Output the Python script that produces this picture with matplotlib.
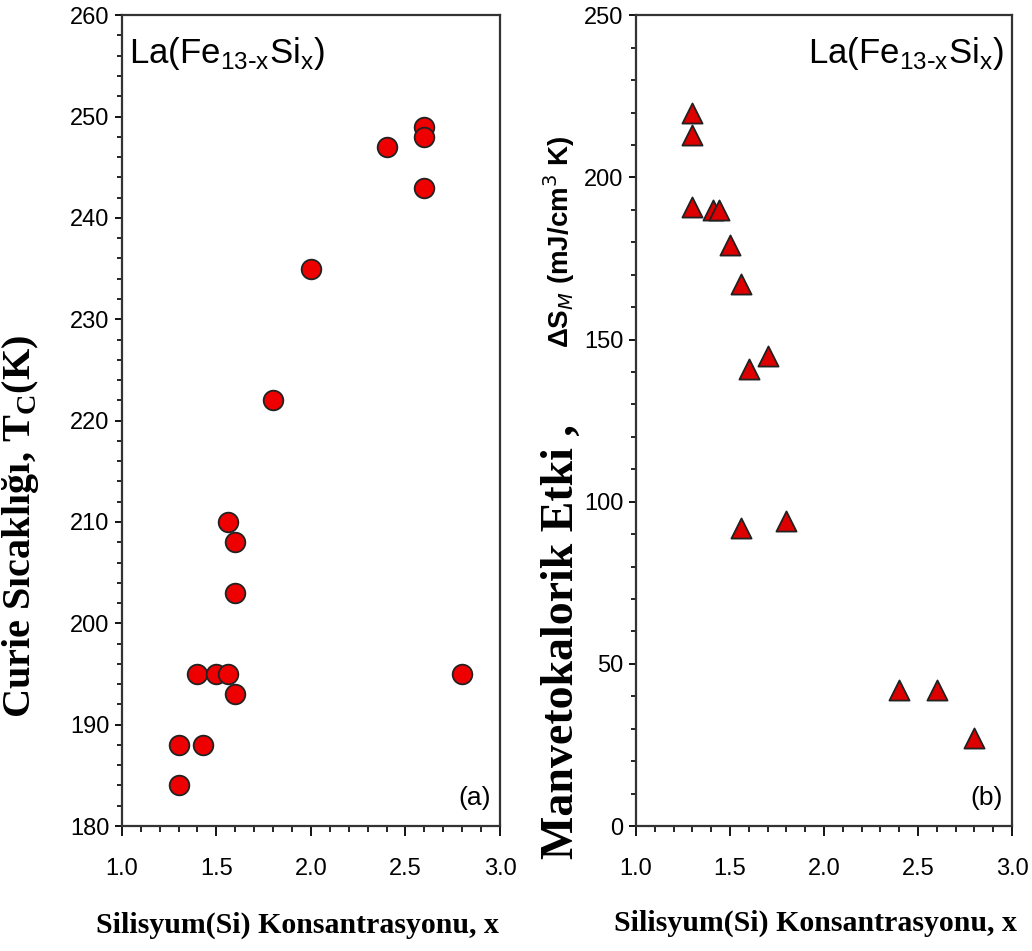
import matplotlib
matplotlib.use("Agg")
import matplotlib.pyplot as plt
from matplotlib.ticker import MultipleLocator

# ---- data (a): Curie temperature
x_a = [1.30, 1.30, 1.40, 1.43, 1.50, 1.56, 1.56, 1.60, 1.60, 1.60, 1.80, 2.00, 2.40, 2.60, 2.60, 2.60, 2.80]
tc_a = [188, 184, 195, 188, 195, 210, 195, 208, 203, 193, 222, 235, 247, 249, 248, 243, 195]

# ---- data (b): magnetocaloric effect
x_b = [1.30, 1.30, 1.30, 1.41, 1.44, 1.50, 1.56, 1.60, 1.70, 1.56, 1.80, 2.40, 2.60, 2.80]
ds_b = [220, 213, 191, 190, 190, 179, 167, 141, 145, 92, 94, 42, 42, 27]

xticks = [1.0, 1.5, 2.0, 2.5, 3.0]
yticks_a = [180, 190, 200, 210, 220, 230, 240, 250, 260]
yticks_b = [0, 50, 100, 150, 200, 250]

SANS = ['Liberation Sans', 'DejaVu Sans']
SERIF = ['Liberation Serif', 'DejaVu Serif']
TICK_SIZE = 17

fig = plt.figure(figsize=(10.32, 9.51), dpi=100)
ax1 = fig.add_axes([0.118, 0.1314, 0.3665, 0.8526])
ax2 = fig.add_axes([0.6163, 0.1314, 0.3643, 0.8526])


def style(ax):
    ax.set_xlim(1.0, 3.0)
    ax.set_xticks(xticks)
    ax.xaxis.set_minor_locator(MultipleLocator(0.1))
    ax.tick_params(axis='x', which='major', direction='out', length=7, width=1.3, pad=16)
    ax.tick_params(axis='x', which='minor', direction='out', length=4, width=1.2)
    ax.tick_params(axis='y', which='major', direction='out', length=5, width=1.3, pad=4)
    ax.tick_params(axis='y', which='minor', direction='out', length=3.5, width=1.2)
    ax.tick_params(top=False, right=False)
    for sp in ax.spines.values():
        sp.set_linewidth(1.6)
        sp.set_color('#333333')
    for lab in ax.get_xticklabels() + ax.get_yticklabels():
        lab.set_fontfamily(SANS)
        lab.set_fontsize(TICK_SIZE)


# panel (a)
ax1.scatter(x_a, tc_a, s=200, c='#ee0000', edgecolors='#222222', linewidths=1.3, marker='o', zorder=3)
ax1.set_ylim(180, 260)
ax1.set_yticks(yticks_a)
ax1.yaxis.set_minor_locator(MultipleLocator(2))
style(ax1)
ax1.set_xlabel('Silisyum(Si) Konsantrasyonu, x', family=SERIF, weight='bold', size=21.5)
ax1.xaxis.set_label_coords(0.465, -0.105)
ax1.set_ylabel('Curie Sıcaklığı, T$_\\mathregular{C}$(K)', family=SERIF, weight='bold', size=29)
ax1.yaxis.set_label_coords(-0.213, 0.37)
ax1.text(0.02, 0.975, 'La(Fe$_\\mathregular{13\\text{-}x}$Si$_\\mathregular{x}$)', transform=ax1.transAxes,
         ha='left', va='top', family=SANS, size=25)
ax1.text(0.975, 0.02, '(a)', transform=ax1.transAxes, ha='right', va='bottom',
         family=SANS, size=19)

# panel (b)
ax2.scatter(x_b, ds_b, s=210, c='#dd0000', edgecolors='#222222', linewidths=1.3, marker='^', zorder=3)
ax2.set_ylim(0, 250)
ax2.set_yticks(yticks_b)
ax2.yaxis.set_minor_locator(MultipleLocator(10))
style(ax2)
ax2.set_xlabel('Silisyum(Si) Konsantrasyonu, x', family=SERIF, weight='bold', size=21.5)
ax2.xaxis.set_label_coords(0.476, -0.103)
ax2.set_ylabel('Manvetokalorik Etki ,', family=SERIF, weight='bold', size=33)
ax2.yaxis.set_label_coords(-0.14, 0.228)
ax2.text(-0.158, 0.72, 'ΔS$_M$ (mJ/cm$^3$ K)', transform=ax2.transAxes, rotation=90,
         ha='right', va='center', family=SANS, weight='bold', size=20)
ax2.text(0.98, 0.975, 'La(Fe$_\\mathregular{13\\text{-}x}$Si$_\\mathregular{x}$)', transform=ax2.transAxes,
         ha='right', va='top', family=SANS, size=25)
ax2.text(0.975, 0.02, '(b)', transform=ax2.transAxes, ha='right', va='bottom',
         family=SANS, size=19)

fig.savefig('out.png', dpi=100)
